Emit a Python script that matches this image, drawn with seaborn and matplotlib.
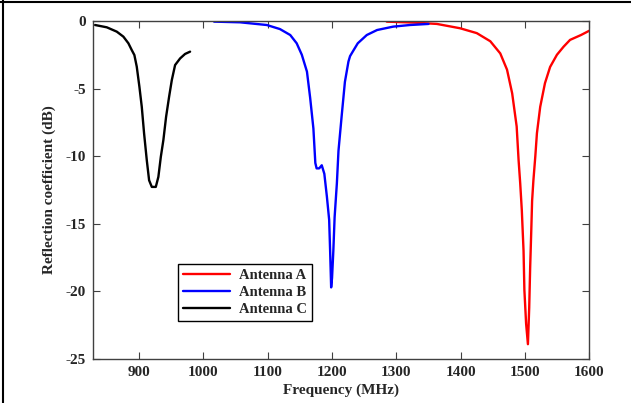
import matplotlib
matplotlib.use("Agg")
import matplotlib.pyplot as plt
from matplotlib.lines import Line2D
import numpy as np
import pandas as pd
import seaborn as sns

# Measured reflection coefficient S11 (dB) versus frequency (MHz)
freq_a = [1285, 1327, 1363, 1399, 1425, 1446, 1461.5, 1472, 1480, 1487, 1490,
          1492.5, 1495, 1497.7, 1499, 1501.7, 1504.5, 1506.5, 1508, 1509.7,
          1511, 1513, 1516, 1518.5, 1523.6, 1531, 1539, 1549.6, 1560, 1570,
          1587, 1600]
s11_a = [-0.05, -0.12, -0.22, -0.54, -0.9, -1.5, -2.4, -3.6, -5.35, -7.8, -10.3,
         -12.0, -14.0, -17.0, -19.9, -22.4, -23.9, -21.2, -18.2, -15.5,
         -13.3, -11.8, -10.0, -8.3, -6.35, -4.6, -3.4, -2.5, -1.9, -1.4,
         -1.04, -0.72]

freq_b = [1016.6, 1057, 1098.6, 1119, 1135, 1145, 1153, 1161, 1166, 1171, 1174,
          1176, 1180, 1184, 1188, 1192, 1195.5, 1197, 1198.6, 1200, 1202, 1204,
          1207.5, 1210, 1215, 1220, 1225.5, 1228, 1233, 1240, 1254, 1270, 1295,
          1321, 1350]
s11_b = [-0.05, -0.1, -0.3, -0.6, -1.04, -1.65, -2.5, -3.75, -5.7, -7.95, -10.5,
         -10.9, -10.9, -10.67, -11.3, -13.0, -14.7, -17.0, -19.7, -19.0, -17.0, -14.5,
         -12.0, -9.6, -7.0, -4.5, -3.0, -2.6, -2.2, -1.65, -1.04, -0.67, -0.42,
         -0.3, -0.22]

freq_c = [831.6, 849.8, 865.3, 875.6, 883.4, 888.6, 892.7, 896.4, 900.5, 904.2,
          907.8, 912, 915.6, 919.8, 926, 930, 933.8, 937.8, 942, 946.7, 950.9,
          956, 963.8, 971.5, 979.3]
s11_c = [-0.3, -0.47, -0.79, -1.16, -1.65, -2.15, -2.52, -3.38, -4.86, -6.35,
         -8.32, -10.3, -11.78, -12.27, -12.27, -11.53, -10.05, -8.8, -7.09, -5.6,
         -4.37, -3.26, -2.77, -2.44, -2.27]

names = ["Antenna A", "Antenna B", "Antenna C"]
colors = {"Antenna A": "#ff0000", "Antenna B": "#0000ff", "Antenna C": "#000000"}

x_ticks = [900, 1000, 1100, 1200, 1300, 1400, 1500, 1600]
y_ticks = [0, -5, -10, -15, -20, -25]

df = pd.concat([
    pd.DataFrame({"freq": freq_a, "s11": s11_a, "antenna": names[0]}),
    pd.DataFrame({"freq": freq_b, "s11": s11_b, "antenna": names[1]}),
    pd.DataFrame({"freq": freq_c, "s11": s11_c, "antenna": names[2]}),
], ignore_index=True)

sns.set_style("ticks")
plt.rcParams["font.family"] = ["Liberation Serif", "DejaVu Serif"]
plt.rcParams["font.weight"] = "bold"

fig = plt.figure(figsize=(6.31, 4.03), dpi=100)
ax = fig.add_axes([0.147, 0.109, 0.787, 0.839])

sns.lineplot(data=df, x="freq", y="s11", hue="antenna", hue_order=names,
             palette=colors, estimator=None, sort=True, linewidth=1.7, ax=ax)

ax.set_xlim(828, 1600)
ax.set_ylim(-25, 0)
ax.set_xticks(x_ticks)
ax.set_yticks(y_ticks)
ax.set_xticklabels([str(v) for v in x_ticks])
ax.set_yticklabels([str(v) for v in y_ticks])

for side in ["top", "right", "bottom", "left"]:
    ax.spines[side].set_visible(True)
    ax.spines[side].set_color("#404040")
    ax.spines[side].set_linewidth(1.0)

ax.tick_params(axis="both", direction="in", length=5, width=0.8, color="#404040",
               top=True, right=True, labelsize=11, pad=5)
for lab in ax.get_xticklabels() + ax.get_yticklabels():
    lab.set_fontweight("bold")

ax.set_xlabel("Frequency (MHz)", fontsize=11, fontweight="bold", labelpad=3)
ax.set_ylabel("Reflection coefficient (dB)", fontsize=11, fontweight="bold", labelpad=7)

handles = [Line2D([], [], color=colors[n], linewidth=1.7) for n in names]
leg = ax.legend(handles, names, loc="upper left", bbox_to_anchor=(0.172, 0.281),
                borderaxespad=0, frameon=True, fancybox=False, framealpha=1,
                edgecolor="black", handlelength=3.2, handletextpad=0.6,
                labelspacing=0.25, borderpad=0.35,
                prop={"size": 10.5, "weight": "bold", "family": "Liberation Serif"})
leg.get_frame().set_linewidth(1.0)

# figure frame along top and left edges
fig.add_artist(Line2D([0.0, 1.0], [0.995, 0.995], transform=fig.transFigure,
                      color="black", linewidth=1.5))
fig.add_artist(Line2D([0.0048, 0.0048], [0.0, 1.0], transform=fig.transFigure,
                      color="black", linewidth=1.5))

fig.savefig("out.png", dpi=100)
